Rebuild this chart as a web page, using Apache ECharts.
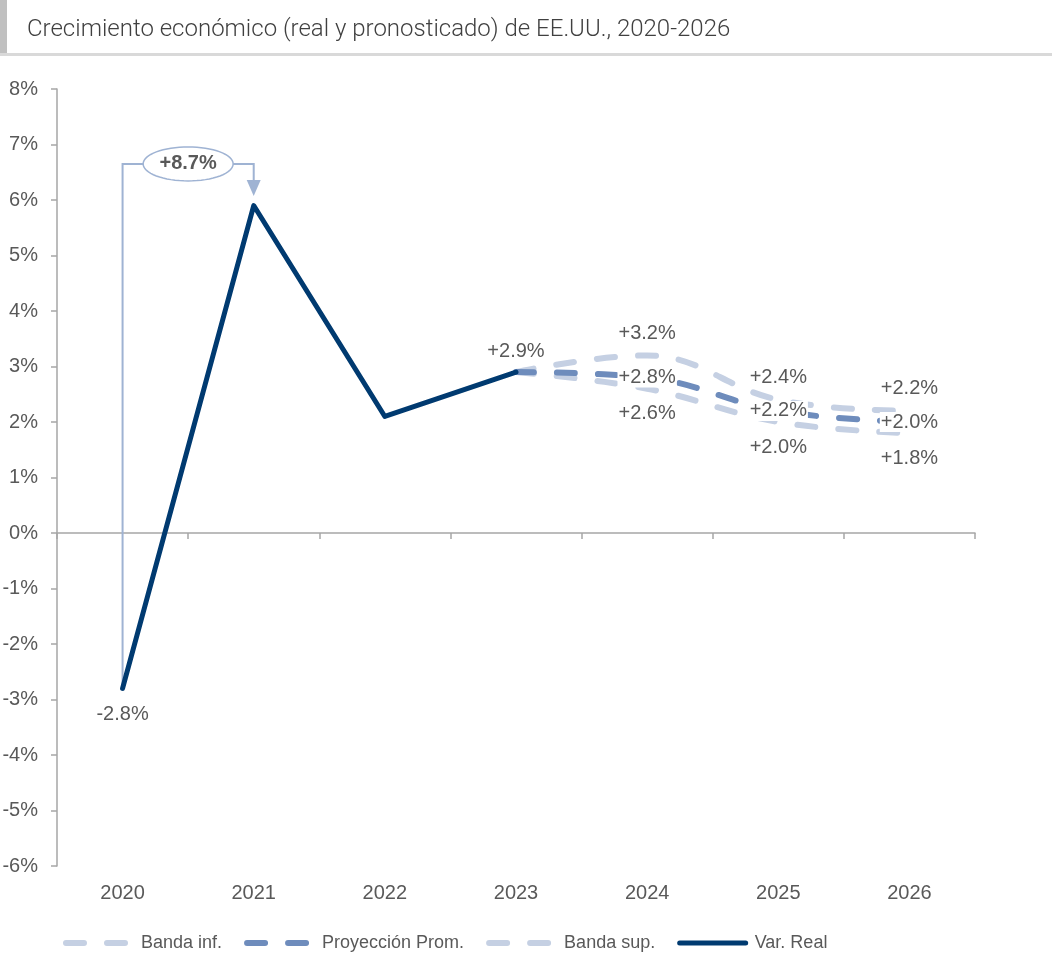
<!DOCTYPE html>
<html>
<head>
<meta charset="utf-8">
<script src="https://cdn.jsdelivr.net/npm/echarts@6/dist/echarts.min.js"></script>
<style>
html, body { margin: 0; padding: 0; background: #fff; }
#chart { width: 1052px; height: 980px; }
</style>
</head>
<body>
<div id="chart"></div>
<script>
// datos
const years = ['2020', '2021', '2022', '2023', '2024', '2025', '2026'];
const realValues = [-2.8, 5.9, 2.1, 2.9, '-', '-', '-'];
const projValues = ['-', '-', '-', 2.9, 2.8, 2.2, 2.0];
const upperValues = ['-', '-', '-', 2.9, 3.2, 2.4, 2.2];
const lowerValues = ['-', '-', '-', 2.9, 2.6, 2.0, 1.8];
// anotacion 2020 -> 2021
const bracketFrom = 0, bracketTo = 1;
const bracketStart = -2.8, bracketLevel = 6.65, bracketTip = 6.07;
const bracketText = '+8.7%';

const labelFont = { fontFamily: 'Liberation Sans', fontSize: 20, color: '#595959' };
const fmt = v => (v > 0 ? '+' : '') + v.toFixed(1) + '%';

// solo 2024-2026 llevan etiqueta en las proyecciones
function fcData(arr, pos, dist) {
    return arr.map((v, i) => v === '-' ? '-' : {
        value: v,
        label: { show: i > 3, position: pos, distance: dist }
    });
}

const myChart = echarts.init(document.getElementById('chart'));

const dashStyle = (color) => ({ color: color, width: 6, type: [18, 23], cap: 'round' });

myChart.setOption({
    animation: false,
    title: {
        text: 'Crecimiento económico (real y pronosticado) de EE.UU., 2020-2026',
        left: 22, top: 13,
        textStyle: { fontFamily: 'Roboto', fontWeight: 300, fontSize: 24, color: '#404040' }
    },
    graphic: [
        { type: 'rect', left: 0, top: 0, shape: { width: 7, height: 53 }, style: { fill: '#c0c0c0' } },
        { type: 'rect', left: 0, top: 53, shape: { width: 1052, height: 3 }, style: { fill: '#d9d9d9' } }
    ],
    legend: {
        bottom: 23, left: 58,
        itemWidth: 66, itemHeight: 14, itemGap: 22,
        data: ['Banda inf.', 'Proyección Prom.', 'Banda sup.', 'Var. Real'],
        itemStyle: { opacity: 0 },
        lineStyle: { width: 'inherit' },
        textStyle: { fontFamily: 'Liberation Sans', fontSize: 18, color: '#595959', padding: [0, 0, 0, 4] }
    },
    grid: { left: 57, right: 77, top: 89, bottom: 114, outerBoundsMode: 'none' },
    xAxis: [{
        type: 'category',
        data: years,
        axisLine: { onZero: true, lineStyle: { color: '#a6a6a6', width: 1.5 } },
        axisTick: { show: true, length: 6, lineStyle: { color: '#a6a6a6', width: 1.5 } },
        axisLabel: { show: false },
        splitLine: { show: false }
    }, {
        type: 'category',
        data: years,
        position: 'bottom',
        axisLine: { show: false, onZero: false },
        axisTick: { show: false },
        axisLabel: { margin: 17, ...labelFont }
    }],
    yAxis: {
        type: 'value',
        min: -6, max: 8, interval: 1,
        axisLine: { show: true, lineStyle: { color: '#a6a6a6', width: 1.5 } },
        axisTick: { show: true, length: 6, lineStyle: { color: '#a6a6a6', width: 1.5 } },
        axisLabel: { margin: 19, formatter: '{value}%', ...labelFont },
        splitLine: { show: false }
    },
    series: [
        {
            type: 'custom',
            name: 'anotacion',
            xAxisIndex: 0,
            z: 1,
            silent: true,
            clip: false,
            data: [[bracketFrom, bracketStart]],
            renderItem: (params, api) => {
                const a = api.coord([bracketFrom, bracketStart]);
                const b = api.coord([bracketFrom, bracketLevel]);
                const c = api.coord([bracketTo, bracketLevel]);
                const t = api.coord([bracketTo, bracketTip]);
                const mx = (b[0] + c[0]) / 2, my = b[1];
                const rx = 45, ry = 17;
                const pts = [];
                for (let k = 0; k < 64; k++) {
                    const ang = k / 64 * Math.PI * 2;
                    pts.push([mx + rx * Math.cos(ang), my + ry * Math.sin(ang)]);
                }
                const col = '#9fb3d3';
                return {
                    type: 'group',
                    children: [
                        { type: 'polyline', shape: { points: [a, b, c, [t[0], t[1] - 15]] },
                          style: { stroke: col, lineWidth: 2, fill: null } },
                        { type: 'polygon', shape: { points: [[t[0] - 7, t[1] - 16], [t[0] + 7, t[1] - 16], t] },
                          style: { fill: col } },
                        { type: 'polygon', shape: { points: pts },
                          style: { fill: '#fff', stroke: col, lineWidth: 1.5 } },
                        { type: 'text', x: mx, y: my,
                          style: { text: bracketText, align: 'center', verticalAlign: 'middle',
                                   fontFamily: 'Liberation Sans', fontWeight: 'bold', fontSize: 20, fill: '#595959' } }
                    ]
                };
            }
        },
        {
            name: 'Banda inf.',
            type: 'line',
            smooth: 0.4,
            symbol: 'circle',
            symbolSize: 0.01,
            z: 2,
            lineStyle: dashStyle('#c5d0e3'),
            itemStyle: { color: '#c5d0e3' },
            label: { formatter: p => fmt(p.value), backgroundColor: '#fff', padding: [0, 1], ...labelFont },
            data: fcData(lowerValues, 'bottom', 15)
        },
        {
            name: 'Banda sup.',
            type: 'line',
            smooth: 0.4,
            symbol: 'circle',
            symbolSize: 0.01,
            z: 2,
            lineStyle: dashStyle('#c5d0e3'),
            itemStyle: { color: '#c5d0e3' },
            label: { formatter: p => fmt(p.value), backgroundColor: '#fff', padding: [0, 1], ...labelFont },
            data: fcData(upperValues, 'top', 12)
        },
        {
            name: 'Proyección Prom.',
            type: 'line',
            smooth: 0.4,
            symbol: 'circle',
            symbolSize: 0.01,
            z: 3,
            lineStyle: dashStyle('#6e8cbc'),
            itemStyle: { color: '#6e8cbc' },
            label: { formatter: p => fmt(p.value), backgroundColor: '#fff', padding: [0, 1], ...labelFont },
            data: fcData(projValues, 'inside', 0)
        },
        {
            name: 'Var. Real',
            type: 'line',
            symbol: 'circle',
            symbolSize: 0.01,
            z: 4,
            lineStyle: { color: '#003a70', width: 5, cap: 'round', join: 'round' },
            itemStyle: { color: '#003a70' },
            label: { formatter: p => fmt(p.value), ...labelFont },
            data: realValues.map((v, i) => v === '-' ? '-' : {
                value: v,
                label: { show: i === 0 || i === 3, position: i === 0 ? 'bottom' : 'top', distance: i === 0 ? 16 : 11 }
            })
        }
    ]
});

window.addEventListener('resize', () => {
    myChart.resize();
});
</script>
</body>
</html>
